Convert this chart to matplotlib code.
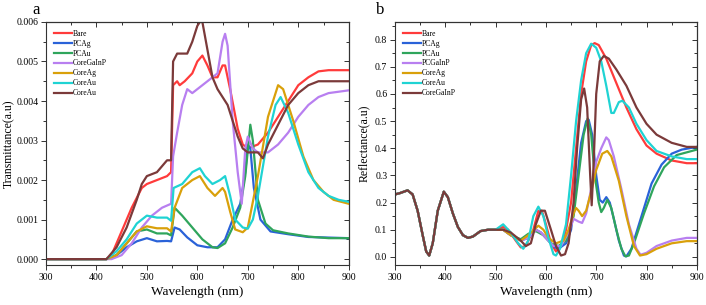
import matplotlib.pyplot as plt
from matplotlib.ticker import MultipleLocator

plt.rcParams["font.family"] = "Liberation Serif"

colors = ["#ff3b3b", "#2a62d8", "#2fa55c", "#b87ff0", "#d9a00a", "#1fd3d3", "#7b3a3a"]

# ---- panel a: transmittance ----
labels_a = ["Bare", "PCAg", "PCAu", "CoreGaInP", "CoreAg", "CoreAu", "CoreAu"]

bare_x = [300, 420, 430, 450, 470, 490, 500, 520, 540, 548, 552, 560, 565, 575, 590, 600, 610, 620, 630,
          640, 650, 655, 665, 680, 690, 700, 720, 740, 760, 780, 800, 820, 840, 860, 900]
bare_y = [0, 0, 0.0001, 0.0007, 0.0013, 0.0018, 0.0019, 0.002, 0.0021, 0.0022, 0.0044, 0.0045, 0.0044,
          0.0045, 0.0047, 0.005, 0.00515, 0.0049, 0.0046, 0.0046, 0.0049, 0.0049, 0.0043, 0.0033, 0.0029,
          0.0028, 0.0029, 0.0032, 0.0036, 0.0040, 0.0044, 0.0046, 0.00475, 0.00478, 0.00478]

pcag_x = [300, 420, 440, 460, 480, 500, 520, 540, 548, 555, 565, 580, 600, 620, 640, 655, 670, 685, 695,
          700, 705, 712, 725, 745, 780, 820, 900]
pcag_y = [0, 0, 0.0001, 0.0003, 0.00045, 0.00053, 0.00045, 0.00046, 0.00045, 0.0008, 0.00075, 0.00055,
          0.00035, 0.0003, 0.0003, 0.0005, 0.001, 0.0014, 0.0022, 0.0029, 0.0028, 0.0018, 0.001, 0.0007,
          0.00063, 0.00056, 0.00053]

pcau_x = [300, 420, 440, 460, 480, 500, 520, 540, 548, 555, 570, 590, 610, 630, 640, 655, 670, 685, 695,
          705, 710, 720, 735, 750, 780, 820, 860, 900]
pcau_y = [0, 0, 0.0001, 0.0004, 0.0007, 0.00075, 0.00065, 0.00065, 0.0006, 0.0013, 0.0011, 0.0008,
          0.0005, 0.0003, 0.00028, 0.0004, 0.0008, 0.0013, 0.0021, 0.0034, 0.003, 0.0015, 0.0009, 0.00073,
          0.00065, 0.00057, 0.00053, 0.00053]

cgp_x = [300, 430, 450, 470, 490, 510, 530, 548, 552, 560, 570, 580, 590, 600, 620, 640, 650, 655, 660,
         670, 680, 688, 695, 700, 710, 720, 740, 760, 780, 800, 820, 840, 860, 900]
cgp_y = [0, 0, 0.0001, 0.0004, 0.0008, 0.0011, 0.0013, 0.0014, 0.0026, 0.0032, 0.0039, 0.0043, 0.0042,
         0.0043, 0.0045, 0.0047, 0.0055, 0.0057, 0.0054, 0.0035, 0.0022, 0.0014, 0.0028, 0.0031, 0.0028,
         0.0027, 0.0027, 0.0029, 0.0032, 0.0036, 0.0039, 0.0041, 0.0042, 0.00427]

cag_x = [300, 420, 440, 460, 480, 500, 520, 540, 548, 555, 570, 590, 605, 620, 635, 650, 655, 665, 675,
         690, 700, 720, 740, 760, 770, 790, 810, 830, 850, 870, 900]
cag_y = [0, 0, 0.0001, 0.0004, 0.0007, 0.00083, 0.00078, 0.00078, 0.0007, 0.0013, 0.0018, 0.002, 0.0021,
         0.0018, 0.0016, 0.0018, 0.0017, 0.0012, 0.00075, 0.00068, 0.0008, 0.0021, 0.0036, 0.0044, 0.0043,
         0.0035, 0.0026, 0.002, 0.0017, 0.0015, 0.0014]

cau_x = [300, 420, 440, 460, 480, 500, 520, 540, 548, 553, 570, 590, 605, 615, 630, 645, 655, 665, 675,
         690, 700, 710, 720, 740, 755, 765, 780, 800, 820, 840, 860, 880, 900]
cau_y = [0, 0, 0.0002, 0.0005, 0.0009, 0.0011, 0.00105, 0.00105, 0.00097, 0.0018, 0.0019, 0.0022, 0.0023,
         0.0021, 0.0019, 0.002, 0.0021, 0.0016, 0.001, 0.0008, 0.00077, 0.001, 0.0016, 0.0031, 0.0039,
         0.0041, 0.0037, 0.0029, 0.0022, 0.0018, 0.0016, 0.0015, 0.00145]

cau2_x = [300, 420, 440, 460, 480, 490, 500, 520, 540, 548, 552, 560, 580, 590, 600, 605, 610, 620, 630,
          640, 650, 660, 670, 680, 690, 700, 720, 730, 740, 760, 780, 800, 820, 840, 900]
cau2_y = [0, 0, 0.0003, 0.0008, 0.0015, 0.0019, 0.0021, 0.0022, 0.0025, 0.0025, 0.005, 0.0052, 0.0052,
          0.0055, 0.0059, 0.006, 0.006, 0.0053, 0.0046, 0.0043, 0.0041, 0.0039, 0.0035, 0.0031, 0.0028,
          0.0027, 0.0027, 0.00255, 0.0029, 0.0034, 0.0039, 0.0042, 0.0044, 0.0045, 0.0045]

series_a = [(bare_x, bare_y), (pcag_x, pcag_y), (pcau_x, pcau_y), (cgp_x, cgp_y),
            (cag_x, cag_y), (cau_x, cau_y), (cau2_x, cau2_y)]

# ---- panel b: reflectance ----
labels_b = ["Bare", "PCAg", "PCAu", "PCGaInP", "CoreAg", "CoreAu", "CoreGaInP"]

# shared part below ~500 nm
base_x = [300, 310, 325, 335, 345, 355, 362, 368, 375, 385, 397, 405, 415, 425, 435, 445, 455, 470, 485, 500]
base_y = [0.23, 0.235, 0.245, 0.23, 0.17, 0.08, 0.02, 0.005, 0.05, 0.17, 0.24, 0.22, 0.16, 0.11, 0.08,
          0.07, 0.075, 0.095, 0.1, 0.1]

r_bare_x = [515, 525, 540, 550, 560, 575, 585, 592, 600, 610, 620, 630, 640, 650, 660, 670, 680, 690, 697,
            705, 720, 740, 760, 780, 800, 820, 850, 880, 900]
r_bare_y = [0.11, 0.1, 0.06, 0.035, 0.04, 0.1, 0.17, 0.17, 0.12, 0.05, 0.02, 0.04, 0.1, 0.2, 0.4, 0.6, 0.72,
            0.78, 0.787, 0.78, 0.73, 0.64, 0.55, 0.47, 0.41, 0.38, 0.355, 0.345, 0.345]

r_pcag_x = [515, 530, 550, 565, 580, 590, 605, 618, 625, 640, 650, 660, 670, 680, 685, 692, 700, 707, 713,
            720, 727, 735, 745, 755, 760, 770, 790, 810, 830, 850, 870, 900]
r_pcag_y = [0.1, 0.08, 0.06, 0.07, 0.1, 0.09, 0.06, 0.035, 0.03, 0.05, 0.1, 0.25, 0.42, 0.5, 0.505, 0.45,
            0.3, 0.21, 0.2, 0.22, 0.2, 0.14, 0.06, 0.005, 0.002, 0.03, 0.15, 0.27, 0.34, 0.38, 0.395, 0.405]

r_pcau_x = [515, 530, 550, 565, 580, 595, 610, 625, 640, 655, 665, 675, 683, 690, 697, 705, 710, 715, 722,
            730, 740, 750, 758, 765, 775, 795, 815, 835, 860, 900]
r_pcau_y = [0.1, 0.08, 0.065, 0.085, 0.095, 0.08, 0.05, 0.04, 0.06, 0.15, 0.3, 0.45, 0.51, 0.45, 0.3, 0.2,
            0.165, 0.18, 0.21, 0.18, 0.1, 0.03, 0.002, 0.005, 0.05, 0.16, 0.26, 0.33, 0.375, 0.395]

r_pgp_x = [515, 530, 550, 565, 580, 590, 600, 615, 630, 645, 655, 665, 672, 680, 690, 700, 710, 720, 725,
           735, 750, 765, 780, 788, 800, 820, 850, 880, 900]
r_pgp_y = [0.1, 0.08, 0.06, 0.07, 0.1, 0.09, 0.07, 0.04, 0.04, 0.09, 0.14, 0.13, 0.125, 0.16, 0.25, 0.35,
           0.4, 0.44, 0.43, 0.37, 0.25, 0.12, 0.03, 0.008, 0.015, 0.04, 0.06, 0.07, 0.07]

r_cag_x = [515, 530, 550, 565, 585, 595, 605, 620, 635, 645, 655, 660, 665, 672, 680, 690, 700, 712, 722,
           730, 745, 760, 775, 787, 800, 820, 850, 880, 900]
r_cag_y = [0.1, 0.08, 0.06, 0.08, 0.115, 0.1, 0.07, 0.05, 0.06, 0.1, 0.16, 0.18, 0.17, 0.15, 0.17, 0.24,
           0.32, 0.38, 0.39, 0.37, 0.28, 0.15, 0.04, 0.005, 0.01, 0.03, 0.05, 0.058, 0.058]

r_cau_x = [515, 530, 545, 555, 565, 575, 585, 595, 605, 615, 620, 628, 640, 650, 660, 670, 680, 690, 700,
           710, 720, 730, 735, 745, 752, 765, 780, 800, 820, 850, 880, 900]
r_cau_y = [0.12, 0.09, 0.05, 0.03, 0.06, 0.15, 0.185, 0.15, 0.07, 0.01, 0.005, 0.03, 0.12, 0.3, 0.5, 0.65,
           0.75, 0.785, 0.77, 0.72, 0.63, 0.53, 0.53, 0.57, 0.575, 0.55, 0.49, 0.43, 0.39, 0.37, 0.36, 0.36]

r_cgp_x = [515, 530, 550, 560, 570, 580, 590, 598, 610, 620, 630, 638, 645, 655, 662, 670, 676, 682, 688,
           691, 695, 700, 707, 715, 725, 740, 760, 780, 800, 820, 850, 880, 900]
r_cgp_y = [0.1, 0.09, 0.06, 0.04, 0.05, 0.12, 0.17, 0.17, 0.1, 0.04, 0.005, 0.01, 0.05, 0.2, 0.4, 0.58,
           0.62, 0.55, 0.3, 0.19, 0.35, 0.6, 0.72, 0.74, 0.73, 0.69, 0.63, 0.55, 0.49, 0.45, 0.42, 0.405,
           0.405]

series_b = [(r_bare_x, r_bare_y), (r_pcag_x, r_pcag_y), (r_pcau_x, r_pcau_y), (r_pgp_x, r_pgp_y),
            (r_cag_x, r_cag_y), (r_cau_x, r_cau_y), (r_cgp_x, r_cgp_y)]

fig = plt.figure(figsize=(7.06, 3.05), dpi=100)
ax_a = fig.add_axes([0.065, 0.131, 0.429, 0.797])
ax_b = fig.add_axes([0.5595, 0.131, 0.4275, 0.797])


def style(ax, ystep):
    for side in ["top", "right", "bottom", "left"]:
        ax.spines[side].set_linewidth(0.8)
        ax.spines[side].set_color("#333333")
    ax.tick_params(which="both", direction="out", labelsize=7, width=0.7, colors="#333333",
                   labelcolor="black", pad=2)
    ax.tick_params(which="major", length=3.5)
    ax.tick_params(which="minor", length=2)
    sec_x = ax.secondary_xaxis("top")
    sec_y = ax.secondary_yaxis("right")
    sec_x.xaxis.set_major_locator(MultipleLocator(100))
    sec_x.xaxis.set_minor_locator(MultipleLocator(50))
    sec_y.yaxis.set_major_locator(MultipleLocator(ystep))
    sec_y.yaxis.set_minor_locator(MultipleLocator(ystep / 2))
    for s in (sec_x, sec_y):
        s.tick_params(which="both", direction="in", width=0.7, colors="#333333")
        s.tick_params(which="major", length=3.5)
        s.tick_params(which="minor", length=2)
    sec_x.set_xticklabels([])
    sec_y.set_yticklabels([])


lw = 1.6
for (x, y), c, lab in zip(series_a, colors, labels_a):
    ax_a.plot(x, y, color=c, lw=lw, label=lab)

for (x, y), c, lab in zip(series_b, colors, labels_b):
    ax_b.plot(base_x + x, base_y + y, color=c, lw=lw, label=lab)

ax_a.set_xlim(300, 900)
ax_a.set_ylim(-0.00015, 0.006)
ax_a.xaxis.set_major_locator(MultipleLocator(100))
ax_a.xaxis.set_minor_locator(MultipleLocator(50))
ax_a.yaxis.set_major_locator(MultipleLocator(0.001))
ax_a.yaxis.set_minor_locator(MultipleLocator(0.0005))
ax_a.yaxis.set_major_formatter(plt.FuncFormatter(lambda v, p: f"{v:.3f}"))
style(ax_a, 0.001)
ax_a.set_xlabel("Wavelength (nm)", fontsize=9.5, labelpad=3)
ax_a.set_ylabel("Transmittance(a.u)", fontsize=8.5, labelpad=1)
ax_a.text(-0.02, 1.015, "a", transform=ax_a.transAxes, fontsize=12, ha="right", va="bottom")

ax_b.set_xlim(300, 900)
ax_b.set_ylim(-0.03, 0.865)
ax_b.xaxis.set_major_locator(MultipleLocator(100))
ax_b.xaxis.set_minor_locator(MultipleLocator(50))
ax_b.yaxis.set_major_locator(MultipleLocator(0.1))
ax_b.yaxis.set_minor_locator(MultipleLocator(0.05))
style(ax_b, 0.1)
ax_b.set_xlabel("Wavelength (nm)", fontsize=9.5, labelpad=3)
ax_b.set_ylabel("Reflectance(a.u)", fontsize=8.5, labelpad=4)
ax_b.text(-0.035, 1.015, "b", transform=ax_b.transAxes, fontsize=12, ha="right", va="bottom")

for ax in (ax_a, ax_b):
    ax.legend(loc="upper left", frameon=False, fontsize=5.5, handlelength=2.3, handletextpad=0.1,
              labelspacing=0.25, borderaxespad=0.3, bbox_to_anchor=(0.01, 0.99))

fig.savefig("out.png", dpi=100)
